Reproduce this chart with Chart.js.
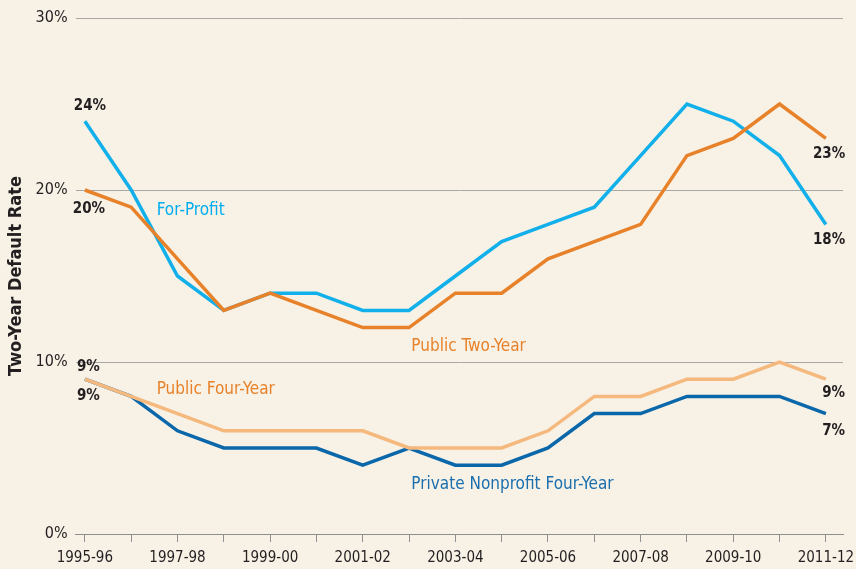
<!DOCTYPE html>
<html>
<head>
<meta charset="utf-8">
<script src="https://cdn.jsdelivr.net/npm/chart.js@4/dist/chart.umd.min.js"></script>
<style>
html,body{margin:0;padding:0;background:#f7f1e6;}
canvas{display:block;}
</style>
</head>
<body>
<canvas id="c" width="856" height="569"></canvas>
<script>
const years = ["1995-96","1996-97","1997-98","1998-99","1999-00","2000-01","2001-02","2002-03","2003-04","2004-05","2005-06","2006-07","2007-08","2008-09","2009-10","2010-11","2011-12"];
const forProfit      = [24,20,15,13,14,14,13,13,15,17,18,19,22,25,24,22,18];
const publicTwoYear  = [20,19,16,13,14,13,12,12,14,14,16,17,18,22,23,25,23];
const publicFourYear = [9,8,7,6,6,6,6,5,5,5,6,8,8,9,9,10,9];
const privateNonprofit = [9,8,6,5,5,5,4,5,4,4,5,7,7,8,8,8,7];
const yTicks = [0,10,20,30];

// annotations: [text, x (year index), y (%), colour, bold]
const annotations = [
  ["For-Profit", 1.55, 18.8, "#00aeef", false],
  ["Public Two-Year", 7.05, 10.9, "#e8822a", false],
  ["Public Four-Year", 1.55, 8.4, "#e8822a", false],
  ["Private Nonprofit Four-Year", 7.05, 2.9, "#1a6fae", false],
  ["24%", -0.24, 24.9, "#231f20", true],
  ["20%", -0.26, 18.9, "#231f20", true],
  ["9%", -0.17, 9.7, "#231f20", true],
  ["9%", -0.17, 8.0, "#231f20", true],
  ["23%", 15.72, 22.1, "#231f20", true],
  ["18%", 15.72, 17.1, "#231f20", true],
  ["9%", 15.92, 8.2, "#231f20", true],
  ["7%", 15.92, 6.0, "#231f20", true]
];

const FONT = '"DejaVu Sans Condensed","Liberation Sans Narrow",Arial,sans-serif';

function pts(arr){ return arr.map((v,i)=>({x:i,y:v})); }

const textPlugin = {
  id: 'texts',
  afterDatasetsDraw(chart){
    const ctx = chart.ctx, xs = chart.scales.x, ys = chart.scales.y;
    ctx.save();
    ctx.textBaseline = 'middle';
    ctx.textAlign = 'left';
    annotations.forEach(a=>{
      ctx.font = (a[4] ? 'bold 15px ' : '17px ') + FONT;
      ctx.fillStyle = a[3];
      ctx.fillText(a[0], xs.getPixelForValue(a[1]), ys.getPixelForValue(a[2]));
    });
    ctx.restore();
  }
};

const bgPlugin = {
  id: 'bg',
  beforeDraw(chart){
    const ctx = chart.ctx;
    ctx.save();
    ctx.fillStyle = '#f7f1e6';
    ctx.fillRect(0,0,chart.width,chart.height);
    ctx.restore();
  }
};

const ds = (label, data, color) => ({
  label, data: pts(data), borderColor: color, backgroundColor: color,
  borderWidth: 3.5, pointRadius: 0, tension: 0, fill: false,
  borderJoinStyle: 'miter', borderCapStyle: 'butt'
});

new Chart(document.getElementById('c'), {
  type: 'line',
  data: {
    datasets: [
      ds('Public Four-Year', publicFourYear, '#f5b87d'),
      ds('Private Nonprofit Four-Year', privateNonprofit, '#0a67aa'),
      ds('Public Two-Year', publicTwoYear, '#e8822a'),
      ds('For-Profit', forProfit, '#12b0ea')
    ]
  },
  options: {
    responsive: false,
    animation: false,
    layout: { padding: { left: 6, right: 13, top: 18, bottom: -5 } },
    plugins: { legend: { display: false }, tooltip: { enabled: false } },
    scales: {
      x: {
        type: 'linear',
        min: -0.2, max: 16.37,
        afterFit: (s) => { s.paddingRight = 0; s.paddingLeft = 0; },
        border: { display: true, color: '#8f8f8f', width: 1 },
        grid: { drawOnChartArea: false, drawTicks: true, tickLength: 8, color: '#8f8f8f', lineWidth: 1 },
        ticks: {
          includeBounds: false, stepSize: 1, autoSkip: false, maxRotation: 0,
          padding: 7, color: '#231f20', font: { family: FONT, size: 15 },
          callback: (v) => (Number.isInteger(v) && v % 2 === 0) ? years[v] : ''
        }
      },
      y: {
        min: 0, max: 30,
        afterFit: (s) => { s.paddingTop = 0; s.paddingBottom = 0; },
        border: { display: false },
        grid: { color: '#a8a8a8', lineWidth: 1, drawTicks: false },
        afterBuildTicks: (s) => { s.ticks = yTicks.map(v => ({ value: v })); },
        ticks: {
          padding: 8, color: '#231f20', font: { family: FONT, size: 16 },
          callback: (v) => v + '%'
        },
        title: {
          display: true, text: 'Two-Year Default Rate', color: '#231f20',
          font: { family: FONT, size: 18, weight: 'bold' }, padding: { top: 0, bottom: 0 }
        }
      }
    }
  },
  plugins: [bgPlugin, textPlugin]
});
</script>
</body>
</html>
